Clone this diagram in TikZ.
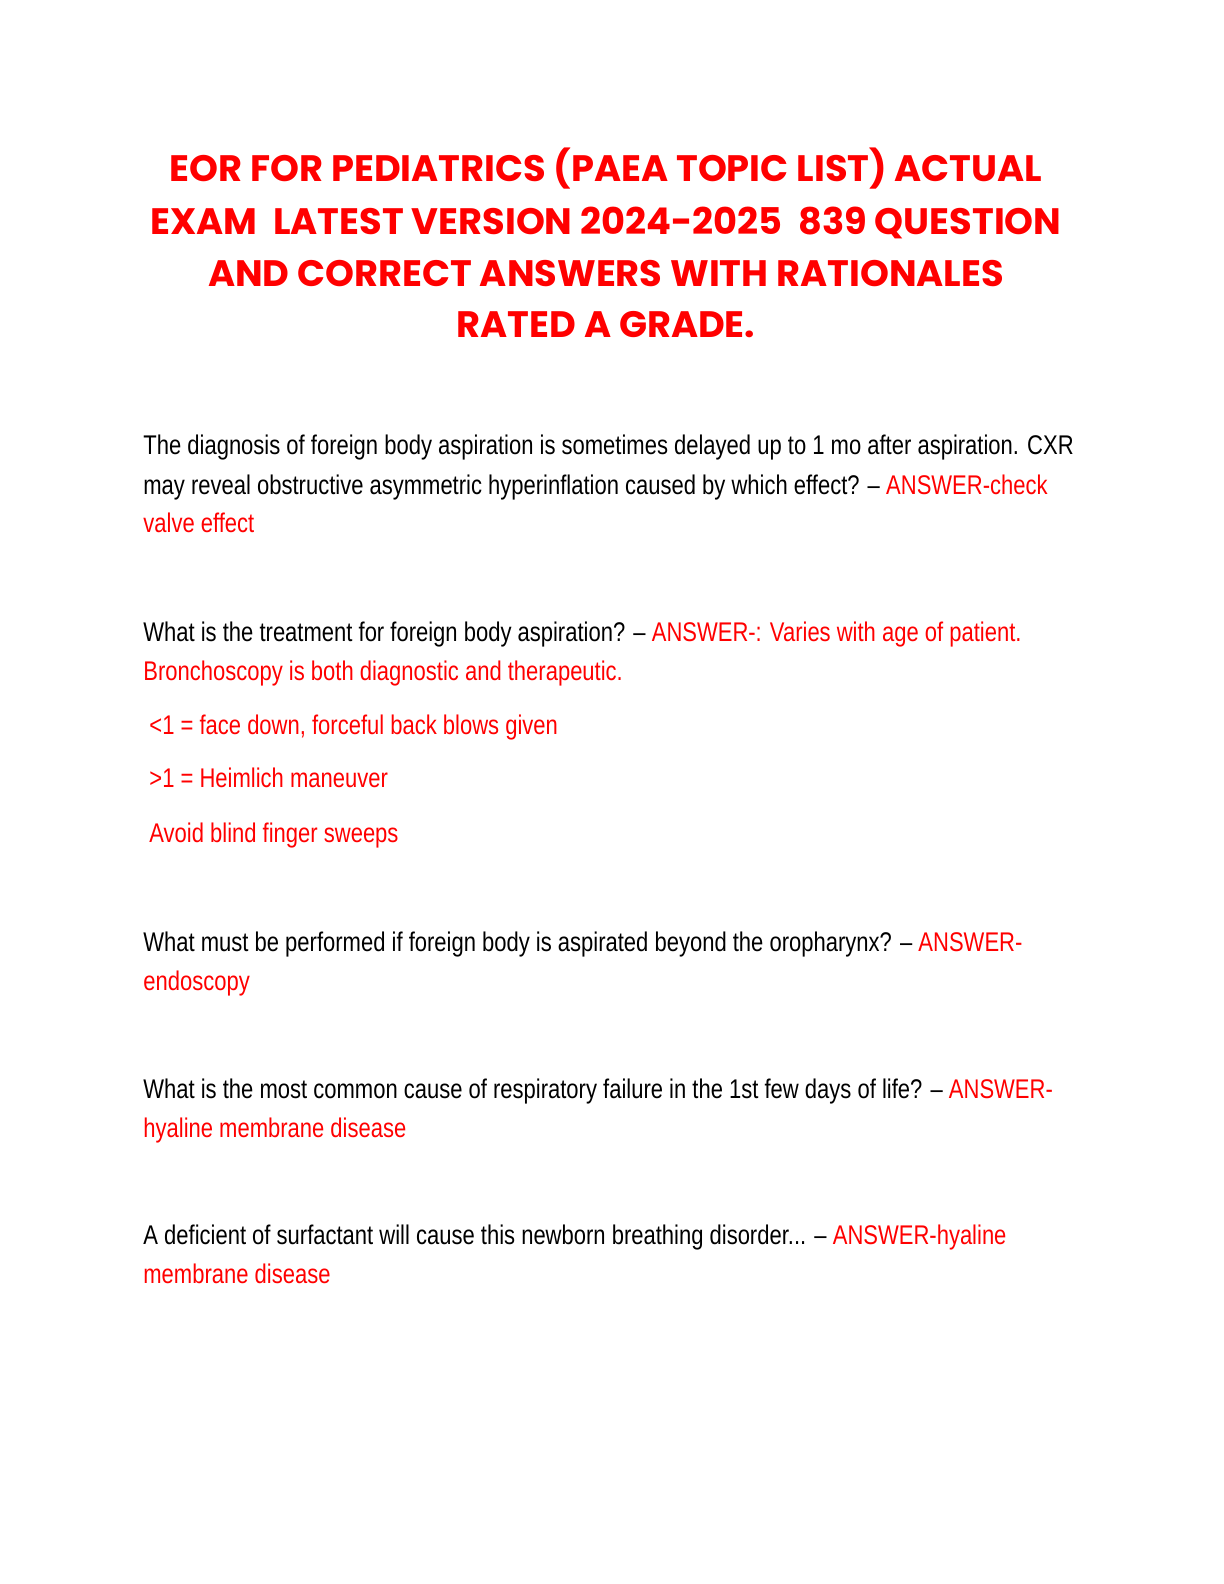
\documentclass[tikz,border=0pt]{standalone}
\usepackage{fontspec}
\setmainfont{Liberation Sans}[FakeStretch=0.815]
\newfontfamily\titlefont{Poppins}
\usepackage{xcolor}
\definecolor{ansred}{RGB}{255,0,0}
\tikzset{
  title/.style={anchor=base, text=ansred, font=\titlefont\bfseries\fontsize{18.4}{18.4}\selectfont},
  body/.style={anchor=base west, inner sep=0pt, font=\fontsize{13.5}{13.5}\selectfont},
}
\newcommand{\ans}[1]{\textcolor{ansred}{#1}}
\begin{document}
\begin{tikzpicture}[x=1pt,y=-1pt]
  \useasboundingbox (0,0) rectangle (612,792);
  \begin{scope}[yshift=-7pt]
  % title
  \node[title] (t1) at (303,83.5) {EOR FOR PEDIATRICS (PAEA TOPIC LIST) ACTUAL};
  \node[title] (t2) at (303,110) {EXAM\ \ LATEST VERSION 2024-2025\ \ 839 QUESTION};
  \node[title] (t3) at (303,136) {AND CORRECT ANSWERS WITH RATIONALES};
  \node[title] (t4) at (303,161.5) {RATED A GRADE.};
  % question 1
  \node[body] (q1a) at (71.5,220) {The diagnosis of foreign body aspiration is sometimes delayed up to 1 mo after aspiration. CXR};
  \node[body] (q1b) at (71.5,240) {may reveal obstructive asymmetric hyperinflation caused by which effect? -- \ans{ANSWER-check}};
  \node[body] (q1c) at (71.5,259) {\ans{valve effect}};
  % question 2
  \node[body] (q2a) at (71.5,313.5) {What is the treatment for foreign body aspiration? -- \ans{ANSWER-: Varies with age of patient.}};
  \node[body] (q2b) at (71.5,333) {\ans{Bronchoscopy is both diagnostic and therapeutic.}};
  \node[body] (q2c) at (74.5,360) {\ans{<1 = face down, forceful back blows given}};
  \node[body] (q2d) at (74.5,386.5) {\ans{>1 = Heimlich maneuver}};
  \node[body] (q2e) at (74.5,414) {\ans{Avoid blind finger sweeps}};
  % question 3
  \node[body] (q3a) at (71.5,468.5) {What must be performed if foreign body is aspirated beyond the oropharynx? -- \ans{ANSWER-}};
  \node[body] (q3b) at (71.5,488) {\ans{endoscopy}};
  % question 4
  \node[body] (q4a) at (71.5,542) {What is the most common cause of respiratory failure in the 1st few days of life? -- \ans{ANSWER-}};
  \node[body] (q4b) at (71.5,561.5) {\ans{hyaline membrane disease}};
  % question 5
  \node[body] (q5a) at (71.5,615) {A deficient of surfactant will cause this newborn breathing disorder... -- \ans{ANSWER-hyaline}};
  \node[body] (q5b) at (71.5,634.5) {\ans{membrane disease}};
  \end{scope}
\end{tikzpicture}
\end{document}
